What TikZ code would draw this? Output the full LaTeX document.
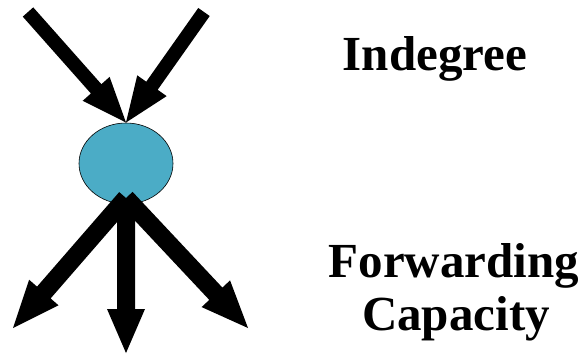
\documentclass[tikz,border=0pt]{standalone}
\usepackage{fontspec}
\setmainfont{Liberation Serif}
\usetikzlibrary{calc,shapes.geometric}
\definecolor{nodeteal}{HTML}{4BACC6}
% #1 from, #2 to, #3 half shaft width, #4 half head width, #5 head length
\newcommand\blockarrow[5]{%
  \coordinate (hb) at ($(#2)!#5!(#1)$);
  \fill[black] ($(#1)!#3!-90:(#2)$) -- ($(hb)!#3!90:(#1)$) -- ($(hb)!#4!90:(#1)$) -- (#2)
    -- ($(hb)!#4!-90:(#1)$) -- ($(hb)!#3!-90:(#1)$) -- ($(#1)!#3!90:(#2)$) -- cycle;
}
\tikzset{
  label text/.style={font=\fontsize{49}{56}\selectfont\bfseries, anchor=base, inner sep=0pt},
  hub/.style={ellipse, draw=black, line width=0.6pt, fill=nodeteal, minimum width=94pt, minimum height=81pt, inner sep=0pt}
}
\begin{document}
\begin{tikzpicture}[x=1pt,y=1pt]
\useasboundingbox (0,0) rectangle (584,-354);
\node[hub] (c) at (126,-163.5) {};
\coordinate (tltail) at (28,-12);
\coordinate (trtail) at (204,-12);
\coordinate (intip) at (126,-122.5);
\coordinate (outstart) at (126,-198);
\coordinate (bl) at (13,-328);
\coordinate (bm) at (126,-353);
\coordinate (br) at (248,-328);
\blockarrow{tltail}{intip}{7pt}{18pt}{45pt}
\blockarrow{trtail}{intip}{7pt}{18pt}{45pt}
\blockarrow{outstart}{bl}{9pt}{19.5pt}{47pt}
\blockarrow{outstart}{bm}{9pt}{19pt}{44pt}
\blockarrow{outstart}{br}{9pt}{19.5pt}{47pt}
\node[label text] (indeg) at (435,-70) {Indegree};
\node[label text] (fwd) at (454,-277) {Forwarding};
\node[label text] (cap) at (456,-330) {Capacity};
\end{tikzpicture}
\end{document}
